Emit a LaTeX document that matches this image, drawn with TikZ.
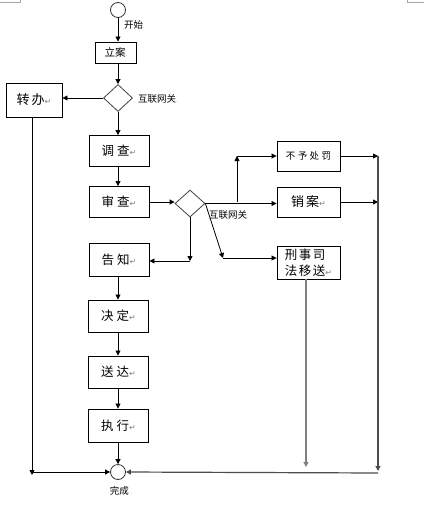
\documentclass[tikz,border=0pt]{standalone}
\usepackage{fontspec}
\setmainfont{Noto Sans CJK SC}
\newfontfamily\symfont{DejaVu Sans}
\usetikzlibrary{arrows.meta,shapes.geometric}
\newcommand{\pmark}{{\symfont\color{gray}\fontsize{8}{8}\selectfont ↵}}
\newcommand{\dmark}{{\color{gray}\fontsize{6}{6}\selectfont .}}
\begin{document}
\begin{tikzpicture}[x=1pt,y=-1pt,
  box/.style={draw,line width=0.9pt,minimum width=60pt,minimum height=31pt,inner sep=0pt,font=\fontsize{12.5}{14}\selectfont},
  gate/.style={draw=black!75,line width=0.8pt,diamond,minimum width=29pt,minimum height=27pt,inner sep=0pt},
  term/.style={draw=black!80,line width=0.8pt,circle,minimum size=15pt,inner sep=0pt},
  lbl/.style={inner sep=0pt,font=\fontsize{9.5}{11}\selectfont},
  arr/.style={-{Triangle[length=5pt,width=5pt]},line width=0.8pt},
  greyarr/.style={-{Triangle[length=5pt,width=5pt]},line width=1.5pt,draw=black!50},
  darkarr/.style={-{Triangle[length=5pt,width=5pt]},line width=1.2pt,draw=black!70},
  crop/.style={draw=black!35,line width=0.8pt}]
\useasboundingbox (0,0) rectangle (437,520);
% page corner marks
\draw[crop] (0,2) -- (20,2) -- (20,0);
\draw[crop] (407,0) -- (407,2) -- (424,2);
% nodes
\node[term] (start) at (118,10) {};
\node[lbl,anchor=west] (startl) at (124,25) {开始\dmark};
\node[box,minimum width=41pt,minimum height=21pt,font=\fontsize{10.5}{12}\selectfont] (lian) at (116,52.5) {立案\dmark};
\node[gate] (d1) at (118,98) {};
\node[lbl,anchor=west] (d1l) at (138,99) {互联网关\dmark};
\node[box,minimum width=56pt,minimum height=34pt,font=\fontsize{13}{15}\selectfont] (zhuan) at (34,100) {转\hspace{2pt}办\pmark};
\node[box] (diao) at (119,151) {调\hspace{3pt}查\pmark};
\node[box] (shen) at (119,202) {审\hspace{3pt}查\pmark};
\node[gate,minimum width=30pt] (d2) at (190,203.5) {};
\node[lbl,anchor=west] (d2l) at (209,215) {互联网关\dmark};
\node[box,minimum height=33pt] (gao) at (119,259.5) {告\hspace{3pt}知\pmark};
\node[box,minimum height=32pt] (jue) at (118.5,316) {决\hspace{3pt}定\pmark};
\node[box,minimum height=32pt] (song) at (118.5,372) {送\hspace{3pt}达\pmark};
\node[box,minimum height=33pt] (zhi) at (118.5,425.5) {执\hspace{3pt}行\pmark};
\node[term] (end) at (118,472) {};
\node[lbl] (endl) at (121,491) {完成\,\dmark};
\node[box,minimum width=63pt,minimum height=30pt,font=\fontsize{9.5}{11}\selectfont] (buyu) at (308.5,156) {不\hspace{2.5pt}予\hspace{2.5pt}处\hspace{2.5pt}罚};
\node[box,minimum width=63pt,minimum height=30pt,font=\fontsize{13}{15}\selectfont] (xiao) at (308.5,202) {销\hspace{2pt}案\pmark};
\node[box,minimum width=63pt,minimum height=33pt,font=\fontsize{12.5}{16}\selectfont,align=left] (xing) at (308.5,262.5) {刑\hspace{1.5pt}事\hspace{1.5pt}司\\法\hspace{1.5pt}移\hspace{1.5pt}送\pmark};
% helper coordinates
\coordinate (b1) at (237,202);
\coordinate (b2) at (237,156);
\coordinate (c1) at (223,258);
\coordinate (c2) at (190,261);
\coordinate (r1) at (378,156);
\coordinate (r2) at (378,202);
\coordinate (r3) at (378,471);
\coordinate (r4) at (378,473);
\coordinate (l1) at (32,475);
\coordinate (l2) at (32,472);
\coordinate (x1) at (306,467);
% connectors
\draw[arr] (start.south) -- (start.south |- lian.north);
\draw[arr] (lian.south -| d1.north) -- (d1.north);
\draw[arr] (d1.west) -- (d1.west -| zhuan.east);
\draw[arr] (d1.south) -- (d1.south |- diao.north);
\draw[arr] (diao.south -| d1.south) -- (d1.south |- shen.north);
\draw[arr] (shen.east) -- (shen.east -| d2.west);
\draw[arr] (d2.east) -- (xiao.west |- d2.east);
\draw[arr] (b1) -- (b2);
\draw[arr] (b2) -- (b2 -| buyu.west);
\draw[arr] (d2.east) -- (c1);
\draw[arr] (c1) -- (c1 -| xing.west);
\draw[arr] (d2.south) -- (c2);
\draw[arr] (c2) -- (c2 -| gao.east);
\draw[arr] (gao.south -| end.north) -- (end.north |- jue.north);
\draw[arr] (jue.south -| end.north) -- (end.north |- song.north);
\draw[arr] (song.south -| end.north) -- (end.north |- zhi.north);
\draw[arr] (zhi.south -| end.north) -- (end.north);
\draw[arr] (buyu.east |- r1) -- (r1);
\draw[arr] (xiao.east) -- (r2);
\draw[darkarr] (r1) -- (r3);
\draw[darkarr] (r4) -- (end.east);
\draw[greyarr] (xing.south -| x1) -- (x1);
\draw[arr] (zhuan.south -| l1) -- (l1);
\draw[arr] (l2) -- (end.west);
\end{tikzpicture}
\end{document}
